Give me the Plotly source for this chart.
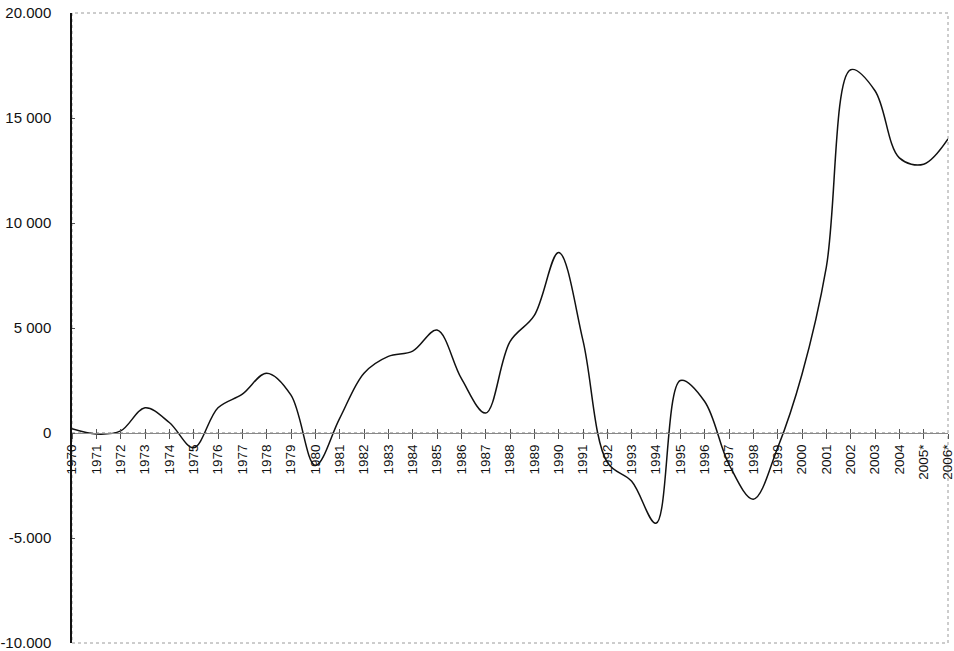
import plotly.graph_objects as go

years = ["1970", "1971", "1972", "1973", "1974", "1975", "1976", "1977", "1978", "1979",
         "1980", "1981", "1982", "1983", "1984", "1985", "1986", "1987", "1988", "1989",
         "1990", "1991", "1992", "1993", "1994", "1995", "1996", "1997", "1998", "1999",
         "2000", "2001", "2002", "2003", "2004", "2005*", "2006*"]
values = [200, -50, 100, 1200, 500, -700, 1200, 1850, 2850, 1800,
          -1550, 700, 2850, 3650, 3900, 4900, 2600, 950, 4350, 5600,
          8600, 4400, -1400, -2300, -4300, 2500, 1500, -1500, -3150, -700,
          2800, 7900, 17300, 16300, 13100, 12800, 14000]

y_ticks = [-10000, -5000, 0, 5000, 10000, 15000, 20000]
y_tick_text = ["-10.000", "-5.000", "0", "5 000", "10 000", "15 000", "20.000"]

Y_MIN, Y_MAX = -10000, 20000
zero_pos = (0 - Y_MIN) / (Y_MAX - Y_MIN)
FONT = "Liberation Sans, Arial, sans-serif"

fig = go.Figure()
fig.add_trace(go.Scatter(
    x=years, y=values, mode="lines",
    line=dict(color="#111111", width=1.5, shape="spline", smoothing=1.0),
    hoverinfo="x+y", showlegend=False,
))

# second copy of the category axis only to draw the upper half of the "+" tick marks
fig.add_trace(go.Scatter(x=years, y=[None] * len(years), xaxis="x2",
                         mode="lines", showlegend=False, hoverinfo="skip"))

fig.update_layout(
    width=954, height=651,
    margin=dict(l=72, r=6, t=13, b=8, autoexpand=False),
    paper_bgcolor="white", plot_bgcolor="white",
    font=dict(family=FONT, size=15, color="#111111"),
    xaxis=dict(
        type="category", range=[0, len(years) - 1], automargin=False,
        anchor="free", position=zero_pos,
        showline=True, linecolor="#888888", linewidth=1,
        showgrid=False, zeroline=False,
        ticks="outside", ticklen=5, tickcolor="#555555", tickwidth=1,
        tickangle=-90, tickfont=dict(family=FONT, size=13.5, color="#111111"),
    ),
    xaxis2=dict(
        type="category", range=[0, len(years) - 1], automargin=False,
        overlaying="x", anchor="free", position=zero_pos,
        showline=False, showgrid=False, zeroline=False,
        ticks="inside", ticklen=4, tickcolor="#555555", tickwidth=1,
        showticklabels=False,
    ),
    yaxis=dict(
        range=[Y_MIN, Y_MAX], automargin=False,
        tickmode="array", tickvals=y_ticks, ticktext=y_tick_text,
        showline=True, linecolor="#111111", linewidth=1.5,
        showgrid=False, zeroline=False,
        ticks="inside", ticklen=3, tickcolor="#555555",
        ticklabelstandoff=16, ticklabeloverflow="allow",
        tickfont=dict(family=FONT, size=15, color="#111111"),
    ),
    shapes=[
        dict(type="rect", xref="paper", yref="paper", x0=0, y0=0, x1=1, y1=1,
             line=dict(color="#9a9a9a", width=1, dash="dot"), layer="below"),
        dict(type="line", xref="paper", yref="paper", x0=0, x1=1,
             y0=zero_pos, y1=zero_pos,
             line=dict(color="#777777", width=1, dash="dot"), layer="below"),
    ],
)

fig.write_html("out.html")
